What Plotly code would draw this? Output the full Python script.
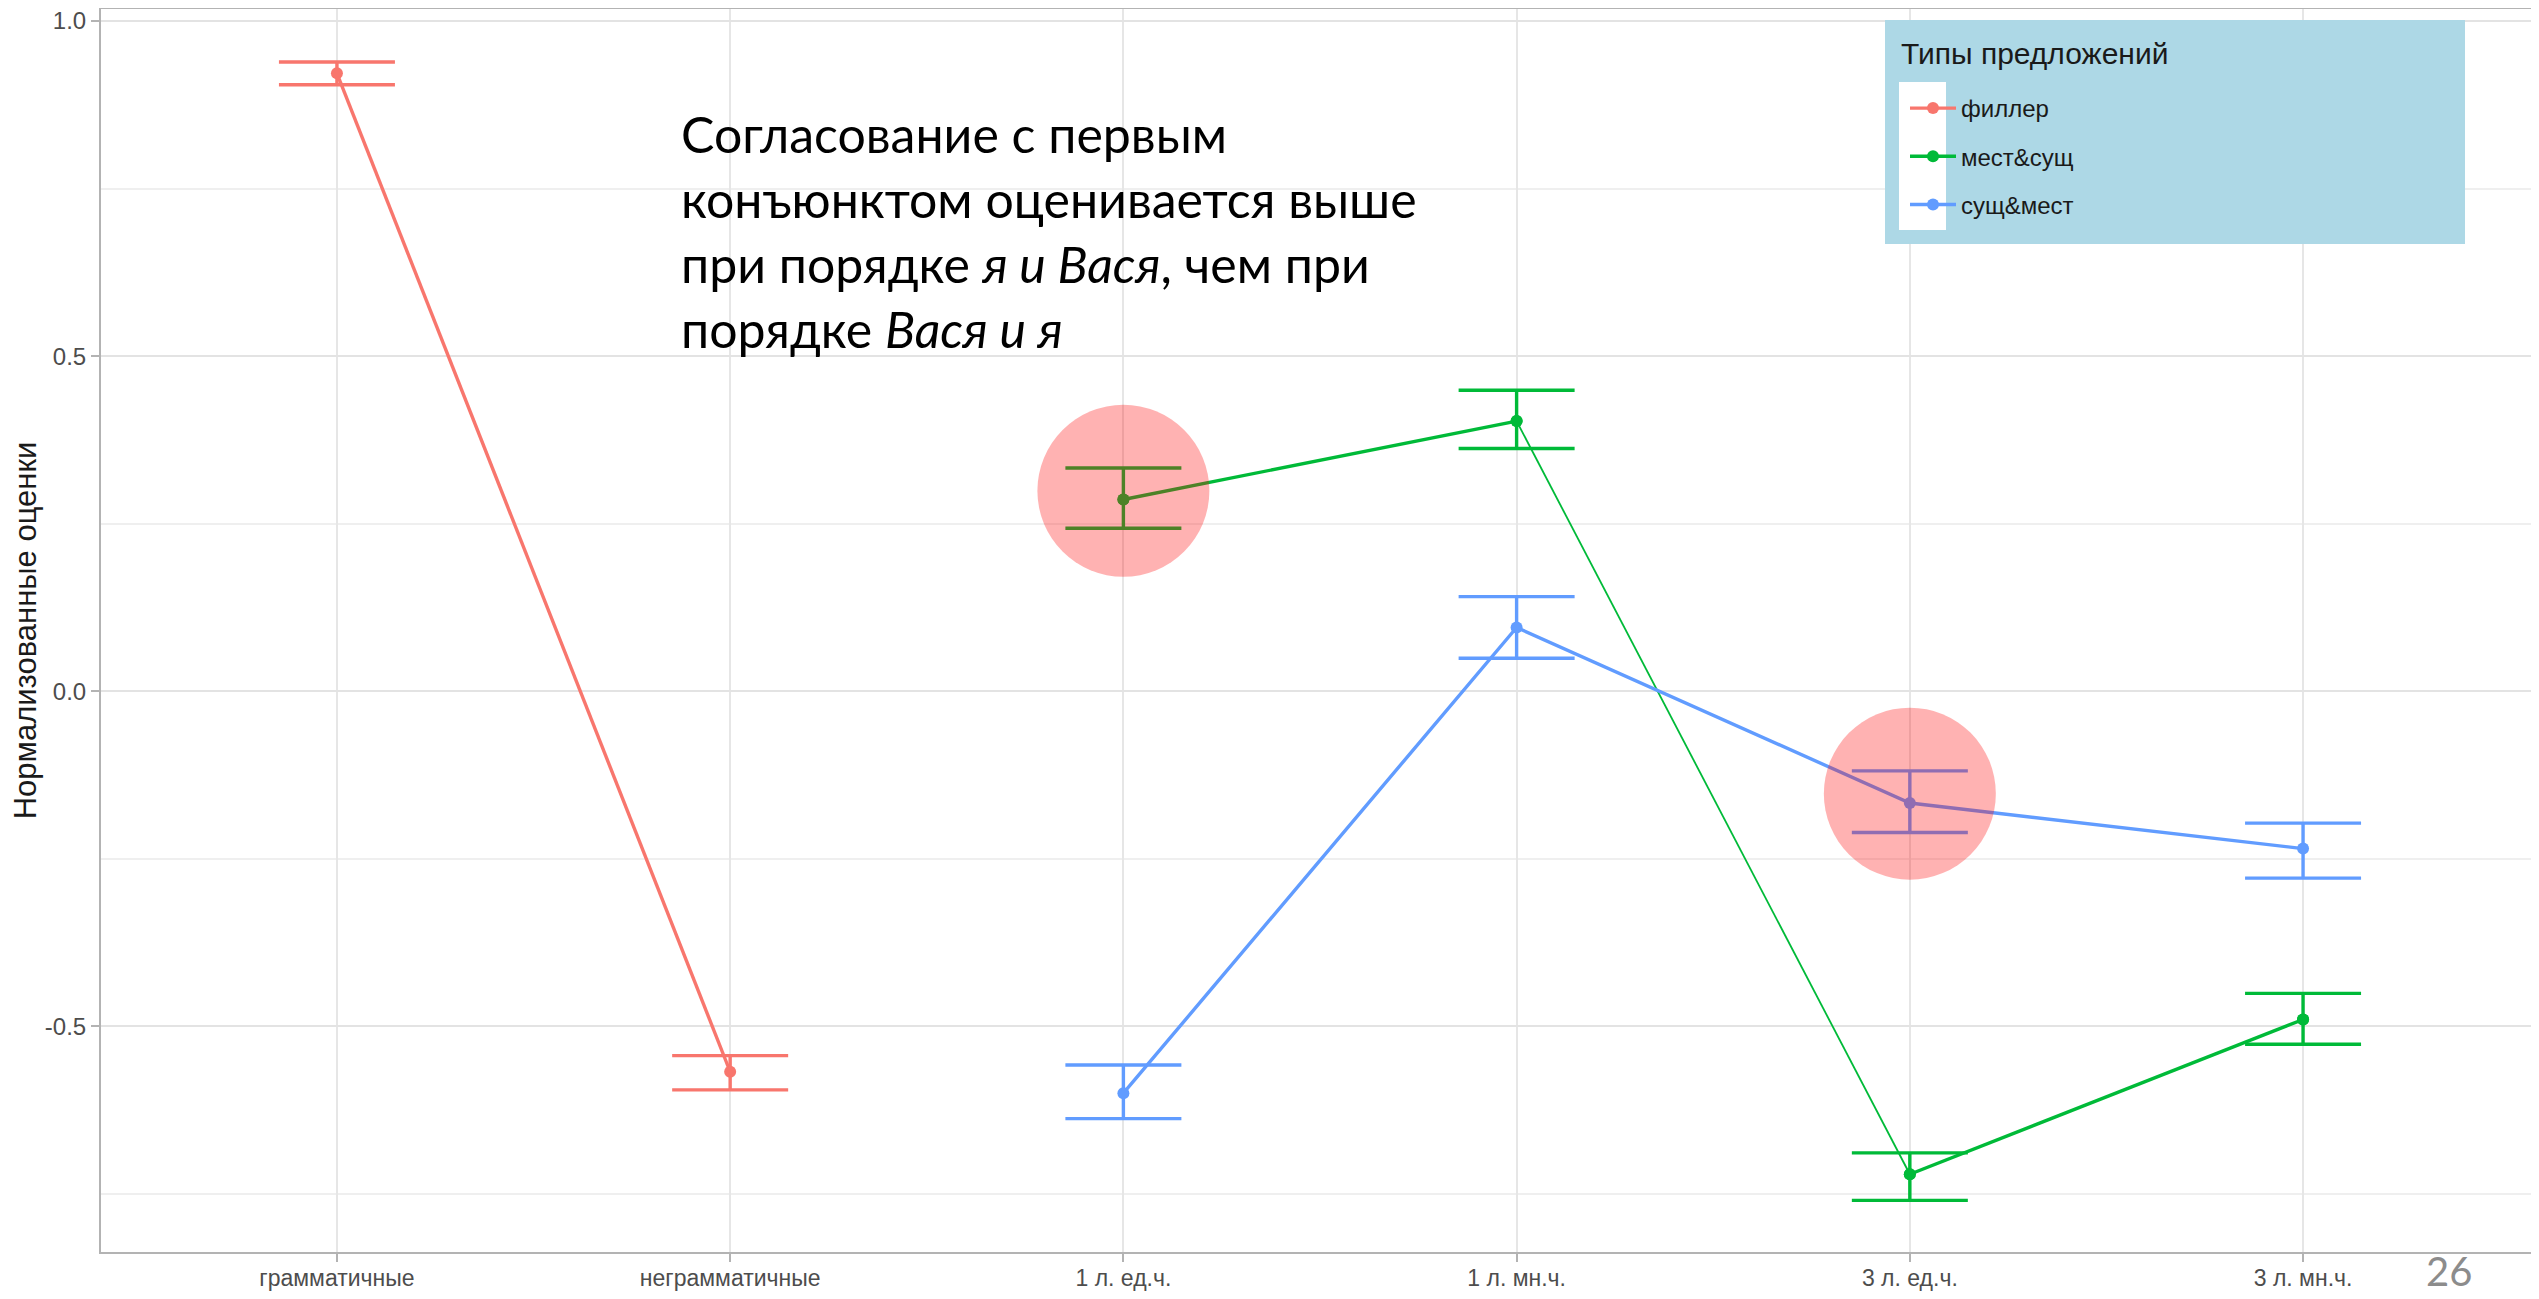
import plotly.graph_objects as go

categories = ["грамматичные", "неграмматичные", "1 л. ед.ч.", "1 л. мн.ч.", "3 л. ед.ч.", "3 л. мн.ч."]

filler_x = ["грамматичные", "неграмматичные"]
filler_mean = [0.922, -0.568]
filler_low = [0.905, -0.595]
filler_high = [0.939, -0.544]

ms_x = ["1 л. ед.ч.", "1 л. мн.ч.", "3 л. ед.ч.", "3 л. мн.ч."]
ms_mean = [0.286, 0.403, -0.721, -0.490]
ms_low = [0.243, 0.362, -0.760, -0.527]
ms_high = [0.333, 0.449, -0.689, -0.451]

sm_x = ["1 л. ед.ч.", "1 л. мн.ч.", "3 л. ед.ч.", "3 л. мн.ч."]
sm_mean = [-0.600, 0.095, -0.167, -0.235]
sm_low = [-0.638, 0.049, -0.211, -0.279]
sm_high = [-0.558, 0.141, -0.119, -0.197]

highlight_x = ["1 л. ед.ч.", "3 л. ед.ч."]
highlight_y = [0.299, -0.153]

series_names = ["филлер", "мест&сущ", "сущ&мест"]
colors = ["#F8766D", "#00BA38", "#619CFF"]

OFF = 8  # page body margin
W, H = 2539 - OFF, 1299 - OFF
ML, MR, MT, MB = 93, 0, 1, 47
PW, PH = W - ML - MR, H - MT - MB

THICK, THIN, EBW, MSIZE = 3.4, 1.8, 3.4, 12


def px2paper_x(sx):
    return (sx - OFF - ML) / PW


def px2paper_y(sy):
    return (H - MB - (sy - OFF)) / PH


fig = go.Figure()


def add_series(name, color, xs, mean, low, high, group, thin_segments=()):
    plus = [h - m for h, m in zip(high, mean)]
    minus = [m - l for m, l in zip(mean, low)]
    err = dict(type="data", symmetric=False, array=plus, arrayminus=minus,
               color=color, thickness=EBW, width=58)
    if not thin_segments:
        fig.add_trace(go.Scatter(
            x=xs, y=mean, mode="lines+markers", name=name, legendgroup=group,
            line=dict(color=color, width=THICK), marker=dict(color=color, size=MSIZE),
            error_y=err,
        ))
        return
    fig.add_trace(go.Scatter(
        x=xs, y=mean, mode="markers", name=name, legendgroup=group,
        marker=dict(color=color, size=MSIZE), error_y=err, showlegend=False,
    ))
    for i in thin_segments:
        fig.add_trace(go.Scatter(
            x=[xs[i], xs[i + 1]], y=[mean[i], mean[i + 1]], mode="lines",
            line=dict(color=color, width=THIN), legendgroup=group,
            showlegend=False, hoverinfo="skip",
        ))
    tx, ty = [], []
    for i in range(len(xs) - 1):
        if i in thin_segments:
            tx.append(None); ty.append(None)
            continue
        if tx and tx[-1] == xs[i]:
            tx.append(xs[i + 1]); ty.append(mean[i + 1])
        else:
            tx += [xs[i], xs[i + 1]]; ty += [mean[i], mean[i + 1]]
    fig.add_trace(go.Scatter(
        x=tx, y=ty, mode="lines+markers", name=name, legendgroup=group,
        line=dict(color=color, width=THICK), marker=dict(color=color, size=MSIZE),
        connectgaps=False,
    ))


add_series(series_names[0], colors[0], filler_x, filler_mean, filler_low, filler_high, "g1")
add_series(series_names[1], colors[1], ms_x, ms_mean, ms_low, ms_high, "g2", thin_segments=(1,))
add_series(series_names[2], colors[2], sm_x, sm_mean, sm_low, sm_high, "g3")

shapes = []
# legend background box and white key area
shapes.append(dict(type="rect", xref="paper", yref="paper",
                   x0=px2paper_x(1885), x1=px2paper_x(2465),
                   y0=px2paper_y(244), y1=px2paper_y(20),
                   fillcolor="#ADD8E6", line=dict(width=0), layer="above"))
shapes.append(dict(type="rect", xref="paper", yref="paper",
                   x0=px2paper_x(1899), x1=px2paper_x(1946),
                   y0=px2paper_y(230), y1=px2paper_y(82),
                   fillcolor="white", line=dict(width=0), layer="above"))
# highlight circles
for hx, hy in zip(highlight_x, highlight_y):
    shapes.append(dict(type="circle", xref="x", yref="y",
                       xsizemode="pixel", ysizemode="pixel",
                       xanchor=hx, yanchor=hy,
                       x0=-86, x1=86, y0=-86, y1=86,
                       fillcolor="rgba(255,0,0,0.30)", line=dict(width=0), layer="above"))

annotations = [
    dict(xref="paper", yref="paper", x=px2paper_x(679), y=px2paper_y(102),
         xanchor="left", yanchor="top", align="left", showarrow=False,
         text="Согласование с первым<br>конъюнктом оценивается выше<br>"
              "при порядке <i>я и Вася</i>, чем при<br>порядке <i>Вася и я</i>",
         font=dict(family="Lato", size=50, color="black")),
    dict(xref="paper", yref="paper", x=px2paper_x(2449), y=px2paper_y(1271),
         xanchor="center", yanchor="middle", showarrow=False, text="26",
         font=dict(family="Lato", size=40, color="#8c8c8c")),
    dict(xref="paper", yref="paper", x=px2paper_x(1899), y=px2paper_y(53),
         xanchor="left", yanchor="middle", showarrow=False, text="Типы предложений",
         font=dict(family="Liberation Sans", size=30, color="#1a1a1a")),
]

fig.update_layout(
    width=W, height=H,
    margin=dict(l=ML, r=MR, t=MT, b=MB),
    plot_bgcolor="white", paper_bgcolor="white",
    font=dict(family="Liberation Sans", color="#4d4d4d"),
    shapes=shapes, annotations=annotations,
    legend=dict(
        x=px2paper_x(1905), y=px2paper_y(86), xanchor="left", yanchor="top",
        bgcolor="rgba(0,0,0,0)", borderwidth=0,
        font=dict(size=24, color="#1a1a1a", family="Liberation Sans"),
        traceorder="grouped", tracegroupgap=14, itemwidth=46,
    ),
    xaxis=dict(
        type="category", categoryorder="array", categoryarray=categories,
        range=[-0.6, 5.6],
        showgrid=True, gridcolor="#e6e6e6", gridwidth=1.5,
        showline=True, linecolor="#b3b3b3", linewidth=2, mirror=True,
        ticks="outside", ticklen=8, tickcolor="#b3b3b3", tickwidth=1.5,
        tickfont=dict(size=23, color="#4d4d4d"), ticklabelstandoff=-4,
        zeroline=False,
    ),
    yaxis=dict(
        range=[-0.837, 1.018],
        tickvals=[-0.5, 0.0, 0.5, 1.0], ticktext=["-0.5", "0.0", "0.5", "1.0"],
        showgrid=True, gridcolor="#e3e3e3", gridwidth=2,
        minor=dict(tickvals=[-0.75, -0.25, 0.25, 0.75], showgrid=True,
                   gridcolor="#efefef", gridwidth=1.5, ticks=""),
        showline=True, linecolor="#b3b3b3", linewidth=2, mirror=True,
        ticks="outside", ticklen=8, tickcolor="#b3b3b3", tickwidth=1.5,
        tickfont=dict(size=24, color="#4d4d4d"), ticklabeloverflow="allow",
        title=dict(text="Нормализованные оценки", font=dict(size=31, color="#1a1a1a"), standoff=4),
        zeroline=False, automargin=False,
    ),
)

fig.write_html("out.html")
